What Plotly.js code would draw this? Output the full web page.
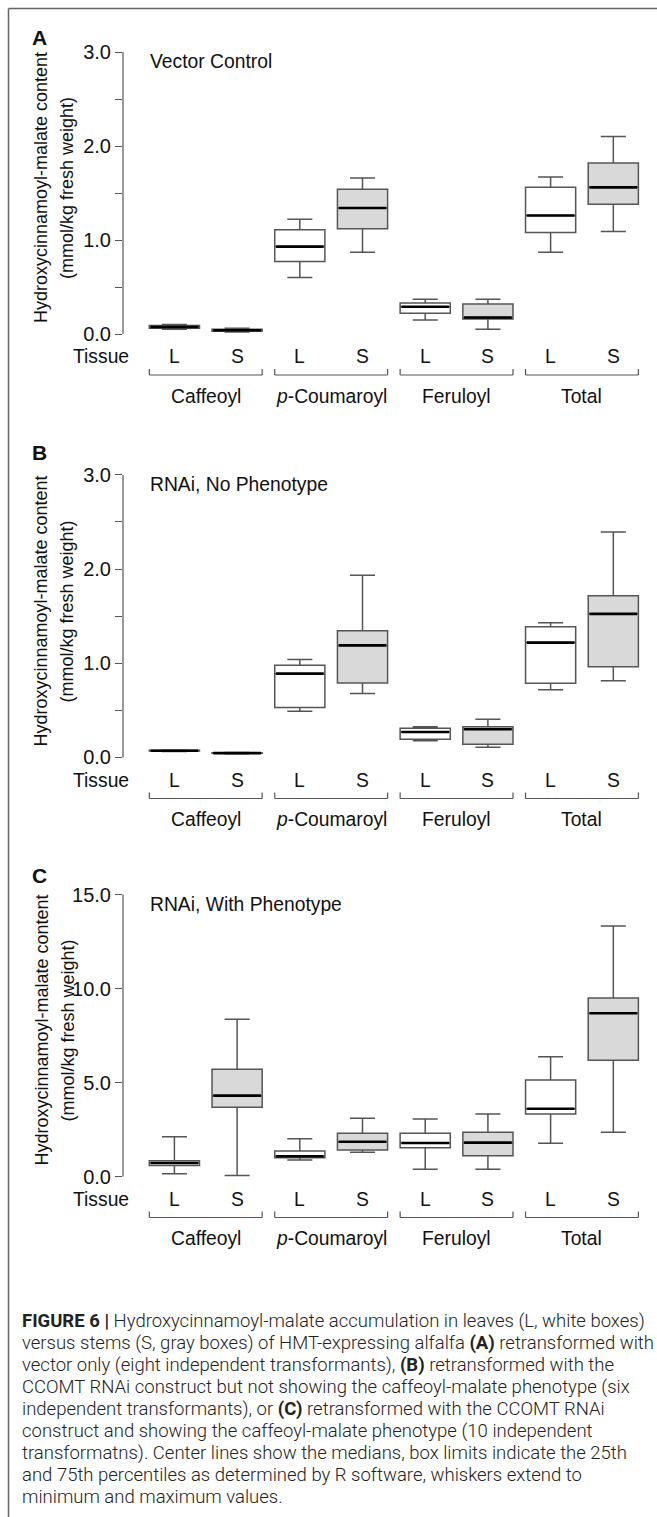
<!DOCTYPE html>
<html><head><meta charset="utf-8">
<script src="https://cdn.plot.ly/plotly-3.0.1.min.js"></script>
<style>html,body{margin:0;padding:0;background:#fff;overflow:hidden}#chart{width:657px;height:1517px}</style>
</head><body><div id="chart"></div>
<script>
// ---------- data ----------
const tissues = ['L','S','L','S','L','S','L','S'];
const groups = ['Caffeoyl','<i>p</i>-Coumaroyl','Feruloyl','Total'];
const panelLetters = ['A','B','C'];
const panelTitles = ['Vector Control','RNAi, No Phenotype','RNAi, With Phenotype'];
const yTitle1 = 'Hydroxycinnamoyl-malate content';
const yTitle2 = '(mmol/kg fresh weight)';
const tissueLabel = 'Tissue';
// order: Caffeoyl L, Caffeoyl S, p-Coumaroyl L, p-Coumaroyl S, Feruloyl L, Feruloyl S, Total L, Total S
const A_min = [0.05, 0.02, 0.60, 0.87, 0.15, 0.05, 0.87, 1.09];
const A_q1  = [0.06, 0.03, 0.77, 1.12, 0.22, 0.16, 1.08, 1.38];
const A_med = [0.075,0.04, 0.93, 1.34, 0.29, 0.175,1.26, 1.56];
const A_q3  = [0.09, 0.05, 1.11, 1.54, 0.33, 0.32, 1.56, 1.82];
const A_max = [0.10, 0.06, 1.22, 1.66, 0.37, 0.37, 1.67, 2.10];

const B_min = [0.065,0.040,0.49, 0.68, 0.178,0.108,0.72, 0.815];
const B_q1  = [0.068,0.044,0.53, 0.79, 0.193,0.14, 0.787,0.963];
const B_med = [0.072,0.047,0.89, 1.19, 0.27, 0.30, 1.22, 1.525];
const B_q3  = [0.076,0.050,0.98, 1.345,0.31, 0.327,1.387,1.716];
const B_max = [0.080,0.053,1.04, 1.935,0.327,0.405,1.43, 2.395];

const C_min = [0.15, 0.05, 0.88, 1.29, 0.38, 0.38, 1.77, 2.35];
const C_q1  = [0.58, 3.68, 1.00, 1.41, 1.53, 1.11, 3.32, 6.18];
const C_med = [0.72, 4.30, 1.08, 1.85, 1.78, 1.80, 3.60, 8.68];
const C_q3  = [0.84, 5.70, 1.35, 2.30, 2.30, 2.35, 5.13, 9.49];
const C_max = [2.12, 8.36, 2.01, 3.10, 3.06, 3.32, 6.37, 13.32];

const A_ticks = [0, 0.5, 1, 1.5, 2, 2.5, 3];
const A_tickText = ['0.0','','1.0','','2.0','','3.0'];
const C_ticks = [0, 5, 10, 15];
const C_tickText = ['0.0','5.0','10.0','15.0'];

const caption = [
 '<b>FIGURE 6 |</b> Hydroxycinnamoyl-malate accumulation in leaves (L, white boxes)',
 'versus stems (S, gray boxes) of HMT-expressing alfalfa <b>(A)</b> retransformed with',
 'vector only (eight independent transformants), <b>(B)</b> retransformed with the',
 'CCOMT RNAi construct but not showing the caffeoyl-malate phenotype (six',
 'independent transformants), or <b>(C)</b> retransformed with the CCOMT RNAi',
 'construct and showing the caffeoyl-malate phenotype (10 independent',
 'transformatns). Center lines show the medians, box limits indicate the 25th',
 'and 75th percentiles as determined by R software, whiskers extend to',
 'minimum and maximum values.'
];

// ---------- layout geometry ----------
const W = 657, H = 1517;
const FONT = 'Liberation Sans, Arial, Helvetica, sans-serif';
const FS = 19.3;
const BOX_W = 0.8;
const axisPx = 123, xPPU = 62.7;
const xRange = [0.18, 0.18 + (W - axisPx) / xPPU];
const positions = tissues.map((t, i) => i + 1);

const panels = [
  {zero: 334,   ppu: 94.0, yr: [-0.12, 3.12], top: 3,  ticks: A_ticks, tt: A_tickText,
   stats: [A_min, A_q1, A_med, A_q3, A_max], letterY: 37},
  {zero: 757.5, ppu: 94.2, yr: [-0.12, 3.12], top: 3,  ticks: A_ticks, tt: A_tickText,
   stats: [B_min, B_q1, B_med, B_q3, B_max], letterY: 452},
  {zero: 1176.5,ppu: 18.8, yr: [-0.6, 15.6],  top: 15, ticks: C_ticks, tt: C_tickText,
   stats: [C_min, C_q1, C_med, C_q3, C_max], letterY: 875}
];

const px = p => p / W;
const py = p => 1 - p / H;

const data = [];
const layout = {
  width: W, height: H, margin: {l:0, r:0, t:0, b:0},
  paper_bgcolor: '#fff', plot_bgcolor: 'rgba(0,0,0,0)',
  showlegend: false, boxmode: 'overlay',
  font: {family: FONT, size: FS, color: '#111'},
  annotations: [], shapes: []
};

const txt = (text, x, y, opts) => Object.assign({
  text, x, y, xref: 'paper', yref: 'paper', showarrow: false,
  xanchor: 'center', yanchor: 'middle', font: {family: FONT, size: FS, color: '#111'}
}, opts || {});

panels.forEach((p, k) => {
  const n = k === 0 ? '' : String(k + 1);
  const xa = 'x' + n, ya = 'y' + n;
  const domTopPx = p.zero - p.yr[1] * p.ppu;
  const domBotPx = p.zero - p.yr[0] * p.ppu;
  layout['xaxis' + n] = {
    domain: [px(axisPx), 1], range: xRange, anchor: ya,
    showgrid: false, zeroline: false, showline: false, showticklabels: false, ticks: ''
  };
  layout['yaxis' + n] = {
    domain: [py(domBotPx), py(domTopPx)], range: p.yr, anchor: xa,
    showgrid: false, zeroline: false, showline: false,
    tickmode: 'array', tickvals: p.ticks, ticktext: p.tt,
    ticks: 'outside', ticklen: 7, tickwidth: 1, tickcolor: '#555',
    tickfont: {family: FONT, size: 20, color: '#111'}
  };
  const [mn, q1, md, q3, mx] = p.stats;
  ['L', 'S'].forEach((t, j) => {
    const idx = positions.map((v, i) => i).filter(i => tissues[i] === t);
    data.push({
      type: 'box', xaxis: xa, yaxis: ya,
      x: idx.map(i => positions[i]),
      lowerfence: idx.map(i => mn[i]), q1: idx.map(i => q1[i]),
      median: idx.map(i => md[i]), q3: idx.map(i => q3[i]),
      upperfence: idx.map(i => mx[i]),
      width: BOX_W, whiskerwidth: 0.5, boxpoints: false,
      fillcolor: t === 'L' ? '#ffffff' : '#d9d9d9',
      line: {color: '#555555', width: 1.5}, hoverinfo: 'skip'
    });
  });
  // median bars
  const mxs = [], mys = [];
  positions.forEach((pos, i) => {
    mxs.push(pos - BOX_W / 2 + 0.02, pos + BOX_W / 2 - 0.02, null);
    mys.push(md[i], md[i], null);
  });
  data.push({type: 'scatter', mode: 'lines', xaxis: xa, yaxis: ya, x: mxs, y: mys,
    line: {color: '#000', width: 2.6}, hoverinfo: 'skip'});
  // y axis line from 0 to top
  layout.shapes.push({type: 'line', xref: 'paper', yref: ya, x0: px(axisPx), x1: px(axisPx),
    y0: 0, y1: p.top, line: {color: '#555', width: 1.2}});
  // tissue row, brackets, group labels
  const rowY = p.zero + 23, brY = p.zero + 41, grY = p.zero + 62;
  layout.annotations.push(txt(tissueLabel, px(101), py(rowY)));
  positions.forEach((pos, i) => {
    layout.annotations.push(txt(tissues[i], pos, py(rowY), {xref: xa}));
  });
  groups.forEach((g, gi) => {
    const a = positions[2 * gi] - BOX_W / 2, b = positions[2 * gi + 1] + BOX_W / 2;
    [[a, brY, b, brY], [a, brY - 6, a, brY], [b, brY - 6, b, brY]].forEach(s => {
      layout.shapes.push({type: 'line', xref: xa, yref: 'paper',
        x0: s[0], y0: py(s[1]), x1: s[2], y1: py(s[3]), line: {color: '#555', width: 1.2}});
    });
    layout.annotations.push(txt(g, (positions[2 * gi] + positions[2 * gi + 1]) / 2, py(grY), {xref: xa}));
  });
  // letter, subtitle, y titles
  layout.annotations.push(txt('<b>' + panelLetters[k] + '</b>', px(39), py(p.letterY),
    {font: {family: FONT, size: 21, color: '#111'}}));
  const topTickPx = p.zero - p.top * p.ppu;
  layout.annotations.push(txt(panelTitles[k], px(148), py(topTickPx + 9.5), {xanchor: 'left'}));
  const yFont = {family: FONT, size: 18, color: '#111'};
  layout.annotations.push(txt(yTitle1, px(41), py(p.zero - 146), {textangle: -90, font: yFont}));
  layout.annotations.push(txt(yTitle2, px(67), py(p.zero - 146), {textangle: -90, font: yFont}));
});

// frame
layout.shapes.push({type: 'line', xref: 'paper', yref: 'paper', x0: px(8.5), x1: 1, y0: py(8.5), y1: py(8.5),
  line: {color: '#666', width: 1.5}});
layout.shapes.push({type: 'line', xref: 'paper', yref: 'paper', x0: px(8.5), x1: px(8.5), y0: py(8.5), y1: 0,
  line: {color: '#666', width: 1.5}});

// caption
caption.forEach((line, i) => {
  layout.annotations.push(txt(line, px(20), py(1321 + i * 22), {xanchor: 'left',
    font: {family: 'Roboto, Liberation Sans, sans-serif', size: 18.5, color: '#222', weight: 300}}));
});

Plotly.newPlot('chart', data, layout, {staticPlot: true, displayModeBar: false});
</script>
</body></html>
